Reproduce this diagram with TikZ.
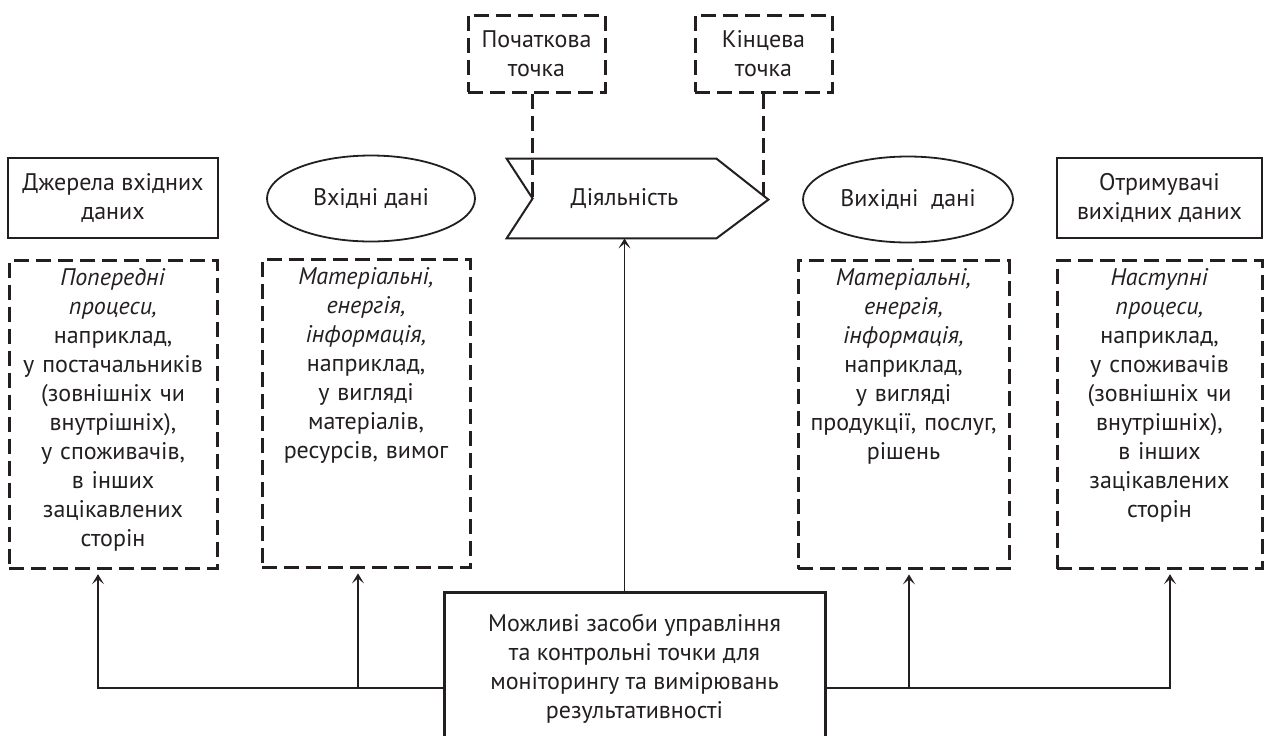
\documentclass[tikz,border=0pt]{standalone}
\usepackage{fontspec}
\setmainfont{PT Sans}
\usepackage{tikz}
\usetikzlibrary{
  arrows.meta,
  shapes.geometric,
  positioning,
  calc
}
\definecolor{pnInk}{HTML}{231F20}
\tikzset{
  pnnode/.style={
    draw=pnInk, text=pnInk, font=\fontsize{12}{14.5}\selectfont,
    align=center, inner sep=2pt
  },
  pndash/.style={line width=1.5pt, dash pattern=on 7.5pt off 3.5pt},
  pnbox/.style={pnnode, line width=1.2pt, minimum height=40pt},
  pndata/.style={pnnode, ellipse, line width=0.9pt, minimum height=43pt, minimum width=104pt},
  pnpoint/.style={pnnode, pndash, minimum width=68.5pt, minimum height=38.5pt},
  pnnote/.style={
    pnnode, pndash, minimum height=154pt, inner ysep=4pt, text width=98pt,
    execute at begin node={\begin{minipage}[t][146pt][t]{\linewidth}\centering},
    execute at end node={\end{minipage}}
  },
  pnact/.style={pnnode, draw=none, minimum width=91.5pt, minimum height=39.5pt},
  pnshape/.style={line width=1pt, pnInk},
  pnctrl/.style={pnnode, line width=1.5pt, minimum width=190.5pt, minimum height=77pt},
  pnflow/.style={-{Stealth[length=5pt, width=6pt, inset=2.5pt]}, line width=0.7pt, pnInk, shorten >=2pt},
  pnlink/.style={pndash, pnInk}
}
\begin{document}
\begin{tikzpicture}[x=0.5pt, y=-0.5pt]
  \useasboundingbox (0,0) rectangle (1264,735);
  \node[pnbox, minimum width=105pt] (src) at (113,198) {Джерела вхідних\\даних};
  \node[pndata] (in) at (371,198.5) {Вхідні дані};
  \node[pnact] (act) at (624.5,198.5) {Діяльність};
  \node[pndata, minimum width=105pt] (out) at (908,199.5) {Вихідні~ дані};
  \node[pnbox, minimum width=102.5pt] (dst) at (1159.5,198) {Отримувачі\\вихідних даних};
  \node[pnpoint] (start) at (536.5,53.5) {Початкова\\точка};
  \node[pnpoint] (stop) at (763.5,53.5) {Кінцева\\точка};
  \draw[pnshape] ([xshift=-13pt]act.north west) -- (act.north east)
    -- coordinate[pos=0.92] (edge) ++(52,41) -- (act.south east)
    -- ([xshift=-13pt]act.south west) -- (act.west) -- cycle;
  \draw[pnlink] (start.south -| act.west) -- (act.west);
  \draw[pnlink] (stop.south) -- (stop.south |- edge);

  \node[pnnote, minimum width=104pt, below=10pt of src] (n1)
    {\textit{Попередні}\\\textit{процеси,}\\наприклад,\\у постачальників\\(зовнішніх чи\\внутрішніх),\\у споживачів,\\в інших\\зацікавлених\\сторін};
  \node[pnnote, minimum width=104pt, below=8pt of in, xshift=-2.5pt] (n2)
    {\textit{Матеріальні,}\\\textit{енергія,}\\\textit{інформація,}\\наприклад,\\у вигляді\\матеріалів,\\ресурсів, вимог};
  \node[pnnote, minimum width=105.5pt, below=8pt of out, xshift=-2.25pt] (n3)
    {\textit{Матеріальні,}\\\textit{енергія,}\\\textit{інформація,}\\наприклад,\\у вигляді\\продукції, послуг,\\рішень};
  \node[pnnote, minimum width=102.5pt, below=10pt of dst] (n4)
    {\textit{Наступні}\\\textit{процеси,}\\наприклад,\\у споживачів\\(зовнішніх чи\\внутрішніх),\\в інших\\зацікавлених\\сторін};

  \node[pnctrl] (ctrl) at (634.5,669)
    {Можливі засоби управління\\та контрольні точки для\\моніторингу та вимірювань\\результативності};
  \coordinate (busL) at ([yshift=-9.5pt]ctrl.west);
  \coordinate (busR) at ([yshift=-9.5pt]ctrl.east);
  \coordinate (a1) at ([xshift=-7.5pt]n1.south);
  \coordinate (a2) at ([xshift=-4pt]n2.south);
  \coordinate (a3) at ([xshift=2.75pt]n3.south);
  \coordinate (a4) at ([xshift=5.25pt]n4.south);
  \draw[pnflow] (busL) -| (a1);
  \draw[pnflow] (a2 |- busL) -- (a2);
  \draw[pnflow] (busR) -| (a4);
  \draw[pnflow] (a3 |- busR) -- (a3);
  \draw[pnflow, shorten >=0pt] (ctrl.north -| act.south) -- (act.south);
\end{tikzpicture}
\end{document}
